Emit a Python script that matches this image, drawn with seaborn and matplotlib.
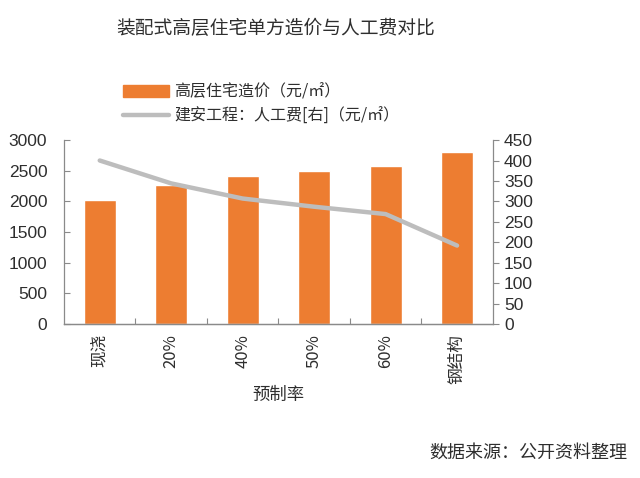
import matplotlib
matplotlib.use("Agg")
import matplotlib.pyplot as plt
import seaborn as sns
from matplotlib.patches import Patch
from matplotlib.lines import Line2D

categories = ["现浇", "20%", "40%", "50%", "60%", "钢结构"]
cost = [2020, 2260, 2420, 2500, 2580, 2800]
labor = [400, 344, 307, 287, 269, 192]
left_ticks = [0, 500, 1000, 1500, 2000, 2500, 3000]
right_ticks = [0, 50, 100, 150, 200, 250, 300, 350, 400, 450]

sns.set_theme(style="white")
plt.rcParams['font.family'] = ['Noto Sans CJK SC', 'DejaVu Sans']

ORANGE = "#ED7D31"
GRAY = "#BDBDBD"
SPINE = "#8a8a8a"
TXT = "#2e2e2e"

fig = plt.figure(figsize=(6.4, 4.78), dpi=100)
ax = fig.add_axes([0.1, 0.322, 0.670, 0.385])

sns.barplot(x=categories, y=cost, color=ORANGE, width=0.45, ax=ax, saturation=1)
ax.set_ylim(0, 3000)
ax.set_xlim(-0.5, len(categories) - 0.5)
ax.set_yticks(left_ticks)
ax.set_yticklabels([str(t) for t in left_ticks], fontsize=12.5, color=TXT, family=['Liberation Sans', 'DejaVu Sans'])

ax2 = ax.twinx()
sns.lineplot(x=list(range(len(categories))), y=labor, ax=ax2, color=GRAY, linewidth=3.2, legend=False)
ax2.set_ylim(0, 450)
ax2.set_yticks(right_ticks)
ax2.set_yticklabels([str(t) for t in right_ticks], fontsize=12.5, color=TXT, family=['Liberation Sans', 'DejaVu Sans'])
ax.set_xlim(-0.5, len(categories) - 0.5)

ax.set_xticks([i + 0.5 for i in range(len(categories) - 1)], minor=True)
ax.set_xticks(range(len(categories)))
ax.set_xticklabels(categories, rotation=90, fontsize=12, color=TXT)
ax.tick_params(axis='x', which='major', length=0, pad=7)
ax.tick_params(axis='x', which='minor', direction='in', length=4, color=SPINE, width=0.8, bottom=True)
ax.tick_params(axis='y', direction='in', length=4, color=SPINE, width=0.8, pad=12)
ax2.tick_params(axis='y', direction='out', length=4, color=SPINE, width=0.8, pad=4)

for a in (ax, ax2):
    a.spines['top'].set_visible(False)
    for s in ('left', 'right', 'bottom'):
        a.spines[s].set_color(SPINE)
        a.spines[s].set_linewidth(0.9)
ax.spines['right'].set_visible(False)
ax2.spines['left'].set_visible(False)

ax.set_xlabel("预制率", fontsize=12.5, color=TXT, labelpad=2)
ax.set_ylabel("")
ax2.set_ylabel("")

handles = [Patch(facecolor=ORANGE, edgecolor=ORANGE),
           Line2D([0], [0], color=GRAY, linewidth=3.2)]
labels = ["高层住宅造价（元/㎡）", "建安工程：人工费[右]（元/㎡）"]
fig.legend(handles, labels, loc='upper left', bbox_to_anchor=(0.17, 0.855),
           frameon=False, fontsize=11.5, handlelength=2.9, handleheight=0.75,
           handletextpad=0.3, labelspacing=0.45, labelcolor=TXT)

fig.text(0.43, 0.94, "装配式高层住宅单方造价与人工费对比", ha='center', va='center',
         fontsize=13.5, color=TXT)
fig.text(0.98, 0.052, "数据来源：公开资料整理", ha='right', va='center',
         fontsize=13, color=TXT)

fig.savefig("out.png", dpi=100, facecolor='white')
